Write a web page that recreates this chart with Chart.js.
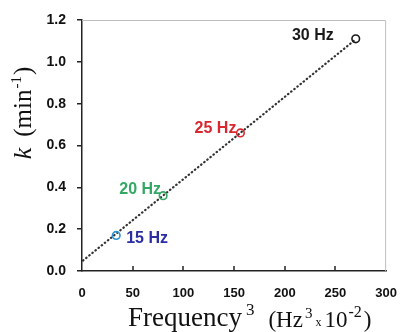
<!DOCTYPE html>
<html>
<head>
<meta charset="utf-8">
<script src="https://cdn.jsdelivr.net/npm/chart.js@4"></script>
<style>
  html, body { margin: 0; padding: 0; background: #fff; }
  #wrap { width: 412px; height: 332px; }
</style>
</head>
<body>
<div id="wrap"><canvas id="kChart" width="412" height="332"></canvas></div>
<script>
// frequency labels and their values (x = freq^3 in Hz^3 x 10^-2)
const freqLabels = ['15 Hz', '20 Hz', '25 Hz', '30 Hz'];
const freqCubed = [33.75, 80, 156.25, 270];
const kValues = [0.17, 0.36, 0.66, 1.11];
const pointColors = ['#2c93cf', '#33a865', '#d9262f', '#1a1a1a'];
const labelColors = ['#2b2ea3', '#33a865', '#d9262f', '#1a1a1a'];

// dotted linear trend line
const fitX = [1, 268];
const fitK = [0.05, 1.1];

const xTicks = [0, 50, 100, 150, 200, 250, 300];
const yTicks = [0, 0.2, 0.4, 0.6, 0.8, 1.0, 1.2];

// where each label sits next to its point
const labelOffsets = [
  { dx: 10, dy: 3, align: 'left' },
  { dx: -2, dy: -6, align: 'right' },
  { dx: -4, dy: -4, align: 'right' },
  { dx: -22, dy: -3, align: 'right' },
];

const SERIF = '"Liberation Serif", "Times New Roman", serif';

// draws a run of text pieces with their own font / raise, starting at x
function drawRuns(ctx, runs, x, y) {
  runs.forEach(r => {
    ctx.font = r.font;
    x += r.gap || 0;
    ctx.fillText(r.text, x, y - (r.raise || 0));
    x += ctx.measureText(r.text).width;
  });
  return x;
}
function runsWidth(ctx, runs) {
  return runs.reduce((w, r) => { ctx.font = r.font; return w + (r.gap || 0) + ctx.measureText(r.text).width; }, 0);
}

const pointLabels = {
  id: 'pointLabels',
  afterDatasetsDraw(chart) {
    const { ctx, scales: { x, y } } = chart;
    ctx.save();
    ctx.font = 'bold 16px "Liberation Sans", Arial, sans-serif';
    ctx.textBaseline = 'middle';
    freqLabels.forEach((lbl, i) => {
      const o = labelOffsets[i];
      ctx.fillStyle = labelColors[i];
      ctx.textAlign = o.align;
      ctx.fillText(lbl, x.getPixelForValue(freqCubed[i]) + o.dx, y.getPixelForValue(kValues[i]) + o.dy);
    });
    ctx.restore();
  },
};

const frame = {
  id: 'frame',
  beforeDatasetsDraw(chart) {
    const { ctx, chartArea: a, scales: { x } } = chart;
    ctx.save();
    // light top/right border
    ctx.strokeStyle = '#bdbdbd';
    ctx.lineWidth = 1;
    ctx.beginPath();
    ctx.moveTo(a.left, a.top + 0.5);
    ctx.lineTo(a.right - 0.5, a.top + 0.5);
    ctx.lineTo(a.right - 0.5, a.bottom);
    ctx.stroke();
    // x ticks point inward
    ctx.strokeStyle = '#222';
    ctx.lineWidth = 1.5;
    xTicks.slice(1, -1).forEach(v => {
      const px = Math.round(x.getPixelForValue(v));
      ctx.beginPath();
      ctx.moveTo(px, a.bottom);
      ctx.lineTo(px, a.bottom - 5);
      ctx.stroke();
    });
    ctx.restore();
  },
  afterDraw(chart) {
    const { ctx, chartArea: a } = chart;
    ctx.save();
    ctx.fillStyle = '#111';
    ctx.textBaseline = 'alphabetic';
    ctx.textAlign = 'left';

    // x title
    const xRuns = [
      { text: 'Frequency', font: '27px ' + SERIF },
      { text: '3', font: '17px ' + SERIF, raise: 11, gap: 4 },
      { text: '(Hz', font: '23px ' + SERIF, gap: 14, raise: -1 },
      { text: '3', font: '15px ' + SERIF, raise: 8, gap: 2 },
      { text: 'x', font: '12px ' + SERIF, gap: 3 },
      { text: '10', font: '23px ' + SERIF, gap: 3, raise: -1 },
      { text: '-2', font: '16px ' + SERIF, raise: 9, gap: 1 },
      { text: ')', font: '23px ' + SERIF, gap: 2, raise: -1 },
    ];
    drawRuns(ctx, xRuns, a.left + 46, 326);

    // y title, rotated
    const yRuns = [
      { text: 'k', font: 'italic 26px ' + SERIF },
      { text: '(min', font: '25px ' + SERIF, gap: 11 },
      { text: '-1', font: '15px ' + SERIF, raise: 10, gap: 1 },
      { text: ')', font: '25px ' + SERIF, gap: 1 },
    ];
    ctx.translate(31, 113);
    ctx.rotate(-Math.PI / 2);
    drawRuns(ctx, yRuns, -runsWidth(ctx, yRuns) / 2, 0);
    ctx.restore();
  },
};

new Chart(document.getElementById('kChart'), {
  type: 'scatter',
  data: {
    datasets: [
      {
        label: 'k',
        data: freqCubed.map((v, i) => ({ x: v, y: kValues[i] })),
        pointRadius: 3.8,
        pointBorderWidth: 1.6,
        pointBorderColor: pointColors,
        pointBackgroundColor: 'rgba(255,255,255,0)',
        showLine: false,
        order: 0,
      },
      {
        label: 'fit',
        data: fitX.map((v, i) => ({ x: v, y: fitK[i] })),
        showLine: true,
        pointRadius: 0,
        borderColor: '#333',
        borderWidth: 2.2,
        borderDash: [0.5, 3.5],
        borderCapStyle: 'round',
        order: 1,
      },
    ],
  },
  options: {
    responsive: false,
    animation: false,
    layout: { padding: { left: 0, top: 20, right: 14, bottom: 0 } },
    plugins: { legend: { display: false }, tooltip: { enabled: false } },
    scales: {
      x: {
        type: 'linear',
        min: 0,
        max: 300,
        afterBuildTicks: s => { s.ticks = xTicks.map(v => ({ value: v })); },
        afterFit: s => { s.height = 61; },
        border: { color: '#222', width: 1.5 },
        grid: { drawOnChartArea: false, drawTicks: false },
        ticks: {
          padding: 15,
          color: '#111',
          font: { family: '"Liberation Sans", Arial, sans-serif', size: 13, weight: 'bold' },
        },
      },
      y: {
        type: 'linear',
        min: 0,
        max: 1.2,
        afterBuildTicks: s => { s.ticks = yTicks.map(v => ({ value: v })); },
        afterFit: s => { s.width = 82; },
        border: { color: '#222', width: 1.5 },
        grid: { drawOnChartArea: false, drawTicks: true, tickLength: 5, color: '#222', lineWidth: 1.5 },
        ticks: {
          padding: 11,
          color: '#111',
          callback: v => v.toFixed(1),
          font: { family: '"Liberation Sans", Arial, sans-serif', size: 14, weight: 'bold' },
        },
      },
    },
  },
  plugins: [frame, pointLabels],
});
</script>
</body>
</html>
